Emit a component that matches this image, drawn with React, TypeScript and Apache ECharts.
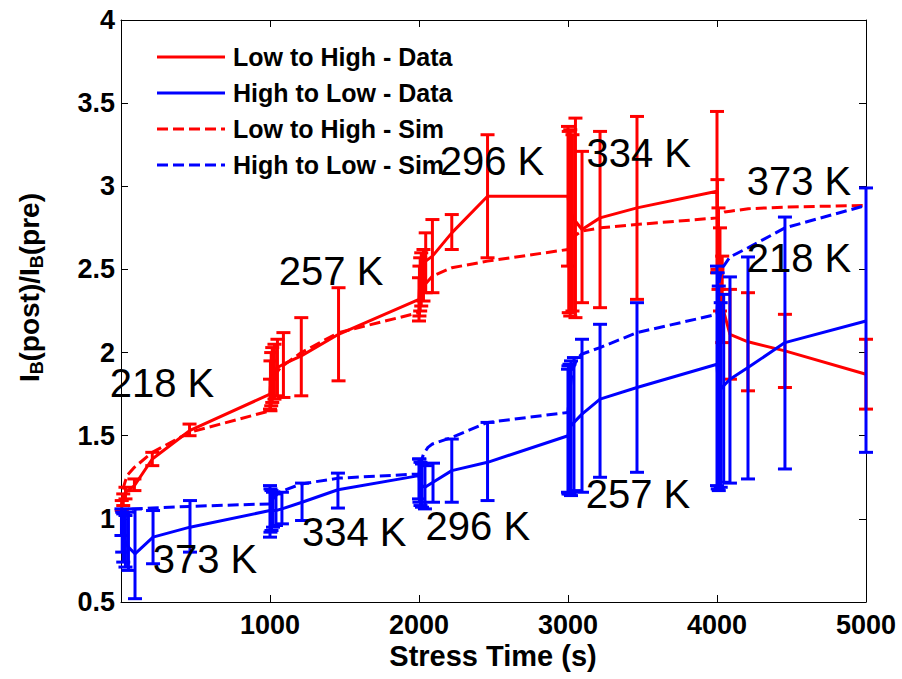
import React, { useEffect, useRef } from "react";
import * as echarts from "echarts";

const FONT = "'Liberation Sans', Arial, Helvetica, sans-serif";
const RED = "#ff0000";
const BLUE = "#0000ff";

const xTicks = [0, 1000, 2000, 3000, 4000, 5000];

// Low to High - Data (with error bars)
const lhDataTime = [5, 15, 30, 90, 210, 460, 1000, 1003, 1008, 1015, 1030, 1050, 1090, 1210, 1460, 2000, 2003, 2008, 2015, 2030, 2045, 2090, 2220, 2460, 3000, 3005, 3015, 3030, 3050, 3094, 3215, 3463, 4000, 4003, 4010, 4020, 4035, 4087, 4208, 4456, 5000];
const lhDataValue = [1.08, 1.12, 1.16, 1.2, 1.36, 1.53, 1.75, 1.8, 1.84, 1.87, 1.89, 1.91, 1.93, 1.98, 2.11, 2.32, 2.38, 2.42, 2.45, 2.48, 2.55, 2.58, 2.72, 2.94, 2.94, 2.9, 2.86, 2.82, 2.79, 2.74, 2.81, 2.87, 2.97, 2.75, 2.6, 2.45, 2.28, 2.11, 2.065, 2.01, 1.87];
const lhDataLow = [1.05, 1.08, 1.12, 1.17, 1.32, 1.5, 1.66, 1.65, 1.68, 1.7, 1.72, 1.74, 1.73, 1.74, 1.83, 2.19, 2.22, 2.25, 2.28, 2.31, 2.36, 2.36, 2.62, 2.57, 2.52, 2.24, 2.22, 2.25, 2.21, 2.3, 2.27, 2.32, 2.48, 2.5, 2.38, 2.25, 2.06, 1.84, 1.77, 1.79, 1.66];
const lhDataHigh = [1.11, 1.15, 1.19, 1.24, 1.4, 1.57, 1.84, 1.95, 2.0, 2.03, 2.05, 2.08, 2.12, 2.21, 2.39, 2.45, 2.52, 2.57, 2.6, 2.62, 2.72, 2.8, 2.83, 3.31, 3.36, 3.33, 3.34, 3.31, 3.41, 3.21, 3.33, 3.42, 3.45, 3.04, 2.87, 2.75, 2.58, 2.38, 2.36, 2.23, 2.08];

// High to Low - Data (with error bars)
const hlDataTime = [3, 8, 15, 30, 50, 94, 215, 463, 1000, 1003, 1010, 1020, 1040, 1080, 1215, 1456, 2000, 2003, 2010, 2020, 2040, 2094, 2220, 2460, 3000, 3003, 3010, 3020, 3040, 3094, 3215, 3463, 4000, 4005, 4012, 4025, 4045, 4087, 4208, 4456, 5000];
const hlDataValue = [1.0, 0.95, 0.9, 0.86, 0.83, 0.79, 0.89, 0.95, 1.05, 1.05, 1.04, 1.05, 1.05, 1.06, 1.1, 1.175, 1.26, 1.23, 1.21, 1.2, 1.19, 1.22, 1.29, 1.34, 1.5, 1.52, 1.54, 1.56, 1.58, 1.63, 1.72, 1.79, 1.93, 1.85, 1.76, 1.78, 1.8, 1.84, 1.91, 2.06, 2.19];
const hlDataLow = [0.9, 0.8, 0.74, 0.71, 0.69, 0.52, 0.73, 0.8, 0.89, 0.92, 0.93, 0.95, 0.96, 0.97, 0.99, 1.065, 1.12, 1.1, 1.08, 1.07, 1.06, 1.1, 1.1, 1.11, 1.16, 1.15, 1.15, 1.14, 1.17, 1.16, 1.25, 1.28, 1.2, 1.18, 1.17, 1.19, 1.22, 1.215, 1.24, 1.3, 1.4];
const hlDataHigh = [1.06, 1.04, 1.03, 1.02, 1.04, 1.06, 1.05, 1.11, 1.2, 1.18, 1.17, 1.16, 1.15, 1.16, 1.215, 1.275, 1.36, 1.36, 1.34, 1.33, 1.32, 1.335, 1.48, 1.58, 1.9, 1.92, 1.93, 1.95, 1.97, 2.08, 2.17, 2.3, 2.52, 2.48, 2.4, 2.3, 2.35, 2.455, 2.575, 2.815, 2.99];

// Low to High - Sim
const lhSimTime = [5, 20, 40, 90, 210, 460, 1000, 1010, 1030, 1070, 1210, 1460, 2000, 2010, 2040, 2090, 2220, 2460, 3000, 3010, 3040, 3090, 3220, 3460, 4000, 4010, 4050, 4090, 4210, 4460, 5000];
const lhSimValue = [1.08, 1.2, 1.26, 1.31, 1.4, 1.52, 1.65, 1.78, 1.86, 1.91, 2.0, 2.12, 2.24, 2.36, 2.41, 2.46, 2.51, 2.55, 2.62, 2.66, 2.7, 2.73, 2.75, 2.77, 2.81, 2.83, 2.845, 2.85, 2.865, 2.875, 2.885];

// High to Low - Sim
const hlSimTime = [5, 25, 90, 210, 460, 1000, 1010, 1060, 1090, 1210, 1460, 2000, 2010, 2030, 2060, 2090, 2220, 2460, 3000, 3010, 3030, 3060, 3090, 3215, 3463, 4000, 4010, 4030, 4087, 4208, 4456, 5000];
const hlSimValue = [1.0, 1.05, 1.06, 1.065, 1.075, 1.09, 1.11, 1.16, 1.17, 1.21, 1.245, 1.27, 1.33, 1.39, 1.43, 1.45, 1.49, 1.58, 1.64, 1.75, 1.9, 1.96, 1.99, 2.03, 2.12, 2.23, 2.4, 2.5, 2.575, 2.63, 2.75, 2.885];

// Temperature annotations: [time, value, text]
const annoTime = [275, 564, 1410, 1565, 2395, 2490, 3475, 3470, 4550, 4550];
const annoValue = [1.82, 0.76, 2.49, 0.92, 0.96, 3.15, 3.2, 1.15, 3.03, 2.57];
const annoText = ["218 K", "373 K", "257 K", "334 K", "296 K", "296 K", "334 K", "257 K", "373 K", "218 K"];

const legendNames = ["Low to High - Data", "High to Low - Data", "Low to High - Sim", "High to Low - Sim"];
const legendColors = [RED, BLUE, RED, BLUE];
const legendDashed = [false, false, true, true];

const pairs = (t: number[], v: number[]) => t.map((x, i) => [x, v[i]]);
const bars = (t: number[], lo: number[], hi: number[]) => t.map((x, i) => [x, lo[i], hi[i]]);

function errorBars(name: string, data: number[][], color: string, z: number) {
  return {
    type: "custom",
    name,
    data,
    z,
    silent: true,
    encode: { x: 0, y: [1, 2] },
    renderItem: (_params: any, api: any) => {
      const x = api.value(0);
      const pLo = api.coord([x, api.value(1)]);
      const pHi = api.coord([x, api.value(2)]);
      const hw = 7;
      const style = { stroke: color, lineWidth: 3, fill: "none" };
      return {
        type: "group",
        children: [
          { type: "line", shape: { x1: pLo[0], y1: pLo[1], x2: pHi[0], y2: pHi[1] }, style },
          { type: "line", shape: { x1: pLo[0] - hw, y1: pLo[1], x2: pLo[0] + hw, y2: pLo[1] }, style },
          { type: "line", shape: { x1: pHi[0] - hw, y1: pHi[1], x2: pHi[0] + hw, y2: pHi[1] }, style },
        ],
      };
    },
  };
}

export default function App() {
  const ref = useRef<HTMLDivElement>(null);
  useEffect(() => {
    if (!ref.current) return;
    const chart = echarts.init(ref.current, undefined, { renderer: "svg" });
    const axisLineStyle = { color: "#000", width: 1 };
    const tick = { show: true, inside: true, length: 7, lineStyle: { color: "#000", width: 1 } };
    const labelStyle = { color: "#000", fontSize: 27, fontWeight: "bold", fontFamily: FONT };
    const option: any = {
      animation: false,
      backgroundColor: "#ffffff",
      grid: { left: 121, right: 36, top: 20, bottom: 77, containLabel: false, outerBoundsMode: "none" },
      xAxis: [
        {
          type: "value", min: xTicks[0], max: xTicks[xTicks.length - 1], interval: 1000, position: "bottom",
          axisLine: { show: true, onZero: false, lineStyle: axisLineStyle },
          axisTick: tick,
          axisLabel: { ...labelStyle, margin: 9, formatter: (v: number) => (v === 0 ? "" : String(v)) },
          splitLine: { show: false },
        },
        {
          type: "value", min: xTicks[0], max: xTicks[xTicks.length - 1], interval: 1000, position: "top",
          axisLine: { show: true, onZero: false, lineStyle: axisLineStyle },
          axisTick: tick, axisLabel: { show: false }, splitLine: { show: false },
        },
      ],
      yAxis: [
        {
          type: "value", min: 0.5, max: 4, interval: 0.5, position: "left",
          axisLine: { show: true, onZero: false, lineStyle: axisLineStyle },
          axisTick: tick,
          axisLabel: { ...labelStyle, margin: 6 },
          splitLine: { show: false },
        },
        {
          type: "value", min: 0.5, max: 4, interval: 0.5, position: "right",
          axisLine: { show: true, onZero: false, lineStyle: axisLineStyle },
          axisTick: tick, axisLabel: { show: false }, splitLine: { show: false },
        },
      ],
      series: [
        {
          type: "line", name: legendNames[0], data: pairs(lhDataTime, lhDataValue), symbol: "none", z: 3,
          lineStyle: { color: RED, width: 3 }, itemStyle: { color: RED },
        },
        errorBars("LH bars", bars(lhDataTime, lhDataLow, lhDataHigh), RED, 3),
        {
          type: "line", name: legendNames[2], data: pairs(lhSimTime, lhSimValue), symbol: "none", z: 3,
          lineStyle: { color: RED, width: 3, type: [11, 5] }, itemStyle: { color: RED },
        },
        {
          type: "line", name: legendNames[1], data: pairs(hlDataTime, hlDataValue), symbol: "none", z: 4,
          lineStyle: { color: BLUE, width: 3 }, itemStyle: { color: BLUE },
        },
        errorBars("HL bars", bars(hlDataTime, hlDataLow, hlDataHigh), BLUE, 4),
        {
          type: "line", name: legendNames[3], data: pairs(hlSimTime, hlSimValue), symbol: "none", z: 4,
          lineStyle: { color: BLUE, width: 3, type: [11, 5] }, itemStyle: { color: BLUE },
        },
      ],
    };
    chart.setOption(option);

    const annoGraphics = annoText.map((text, i) => {
      const p = chart.convertToPixel({ xAxisIndex: 0, yAxisIndex: 0 }, [annoTime[i], annoValue[i]]) as number[];
      return {
        type: "text", x: p[0], y: p[1], z: 100,
        style: { text, font: `40px ${FONT}`, fill: "#000", align: "center", verticalAlign: "middle" },
      };
    });

    const legendGraphics: any[] = [];
    legendNames.forEach((name, i) => {
      const y = 57 + 36 * i;
      legendGraphics.push({
        type: "line", z: 100,
        shape: { x1: 157, y1: y, x2: 225, y2: y },
        style: { stroke: legendColors[i], lineWidth: 3, lineDash: legendDashed[i] ? [11, 5] : null },
      });
      legendGraphics.push({
        type: "text", x: 233, y, z: 100,
        style: { text: name, font: `bold 25px ${FONT}`, fill: "#000", align: "left", verticalAlign: "middle" },
      });
    });

    chart.setOption({
      graphic: [
        ...annoGraphics,
        ...legendGraphics,
        {
          type: "group", x: 29, y: 287, rotation: Math.PI / 2,
          children: [
            { type: "text", x: -95, y: 0, style: { text: "I", font: `bold 28px ${FONT}`, fill: "#000", verticalAlign: "middle", align: "left" } },
            { type: "text", x: -87.2, y: 8, style: { text: "B", font: `bold 18px ${FONT}`, fill: "#000", verticalAlign: "middle", align: "left" } },
            { type: "text", x: -74.5, y: 0, style: { text: "(post)/I", font: `bold 28px ${FONT}`, fill: "#000", verticalAlign: "middle", align: "left" } },
            { type: "text", x: 18.8, y: 8, style: { text: "B", font: `bold 18px ${FONT}`, fill: "#000", verticalAlign: "middle", align: "left" } },
            { type: "text", x: 31.8, y: 0, style: { text: "(pre)", font: `bold 28px ${FONT}`, fill: "#000", verticalAlign: "middle", align: "left" } },
          ],
        },
        {
          type: "text", x: 493, y: 656,
          style: { text: "Stress Time (s)", font: `bold 29px ${FONT}`, fill: "#000", align: "center", verticalAlign: "middle" },
        },
      ],
    });
    return () => chart.dispose();
  }, []);
  return <div ref={ref} style={{ position: "fixed", left: 0, top: 0, width: 902, height: 679, background: "#fff" }} />;
}
